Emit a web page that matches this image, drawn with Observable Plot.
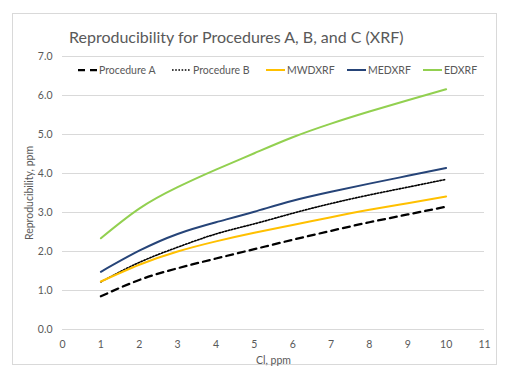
<!DOCTYPE html>
<html>
<head>
<meta charset="utf-8">
<script src="https://cdn.jsdelivr.net/npm/d3@7"></script>
<script src="https://cdn.jsdelivr.net/npm/@observablehq/plot@0.6"></script>
<style>
  body { margin: 0; background: #fff; }
  #chart { position: relative; width: 511px; height: 379px; background: #fff; font-family: Lato, "Open Sans", sans-serif; color: #595959; }
  #frame { position: absolute; left: 12px; top: 13px; width: 485px; height: 352px; border: 1px solid #d9d9d9; box-sizing: border-box; }
  #plot { position: absolute; left: 0; top: 0; }
  #title { position: absolute; left: 69px; top: 27px; font-size: 16px; white-space: nowrap; }
  .leg { position: absolute; top: 64px; font-size: 10.5px; white-space: nowrap; display: flex; align-items: center; }
  .leg svg { margin-right: 2px; }
</style>
</head>
<body>
<div id="chart">
  <div id="frame"></div>
  <div id="plot"></div>
  <div id="title">Reproducibility for Procedures A, B, and C (XRF)</div>
  <div id="legend"></div>
</div>
<script>
// Data
const cl = [1, 2, 3, 4, 5, 6, 7, 8, 9, 10];
const procA  = [0.85, 1.27, 1.57, 1.82, 2.06, 2.30, 2.53, 2.75, 2.95, 3.15];
const procB  = [1.22, 1.72, 2.11, 2.45, 2.71, 2.98, 3.23, 3.45, 3.65, 3.85];
const mwdxrf = [1.23, 1.66, 2.00, 2.26, 2.48, 2.68, 2.88, 3.07, 3.24, 3.41];
const medxrf = [1.48, 2.02, 2.45, 2.75, 3.02, 3.30, 3.53, 3.74, 3.94, 4.14];
const edxrf  = [2.34, 3.10, 3.65, 4.10, 4.52, 4.93, 5.28, 5.59, 5.88, 6.16];
const xTicks = [0, 1, 2, 3, 4, 5, 6, 7, 8, 9, 10, 11];
const yTicks = [0, 1, 2, 3, 4, 5, 6, 7];

const series = [
  {name: "Procedure A", values: procA,  stroke: "#000000", width: 2.25, dash: "7,5"},
  {name: "Procedure B", values: procB,  stroke: "#000000", width: 1.6,  dash: "1.6,1.6"},
  {name: "MWDXRF",      values: mwdxrf, stroke: "#FFC000", width: 2,    dash: null},
  {name: "MEDXRF",      values: medxrf, stroke: "#264478", width: 2,    dash: null},
  {name: "EDXRF",       values: edxrf,  stroke: "#92D050", width: 2,    dash: null}
];

const lineMarks = series.map(s =>
  Plot.line(cl.map((x, i) => ({x, y: s.values[i]})), {
    x: "x", y: "y", stroke: s.stroke, strokeWidth: s.width,
    strokeDasharray: s.dash || undefined, curve: "natural"
  })
);

const chart = Plot.plot({
  width: 511,
  height: 379,
  marginLeft: 62,
  marginRight: 27,
  marginTop: 56,
  marginBottom: 50,
  style: {fontFamily: "Lato, 'Open Sans', sans-serif", fontSize: "10.5px", color: "#595959", background: "transparent"},
  x: {domain: [0, 11]},
  y: {domain: [0, 7]},
  marks: [
    Plot.gridY(yTicks, {stroke: "#d9d9d9", strokeOpacity: 1, strokeWidth: 1}),
    Plot.axisX(xTicks, {tickSize: 0, tickPadding: 11, label: "Cl, ppm", labelAnchor: "center", labelArrow: "none", labelOffset: 34}),
    Plot.axisY(yTicks, {tickSize: 0, tickPadding: 10, tickFormat: d3.format(".1f"), label: "Reproducibility, ppm", labelAnchor: "center", labelArrow: "none", labelOffset: 37}),
    ...lineMarks
  ]
});
document.getElementById("plot").appendChild(chart);

// Legend
const legendX = [78, 172, 266, 347, 423];
const legend = document.getElementById("legend");
series.forEach((s, i) => {
  const div = document.createElement("div");
  div.className = "leg";
  div.style.left = legendX[i] + "px";
  const dash = s.dash ? `stroke-dasharray="${s.dash}"` : "";
  div.innerHTML = `<svg width="19" height="12"><line x1="0" x2="19" y1="6" y2="6" stroke="${s.stroke}" stroke-width="${s.width}" ${dash}/></svg><span>${s.name}</span>`;
  legend.appendChild(div);
});
</script>
</body>
</html>
